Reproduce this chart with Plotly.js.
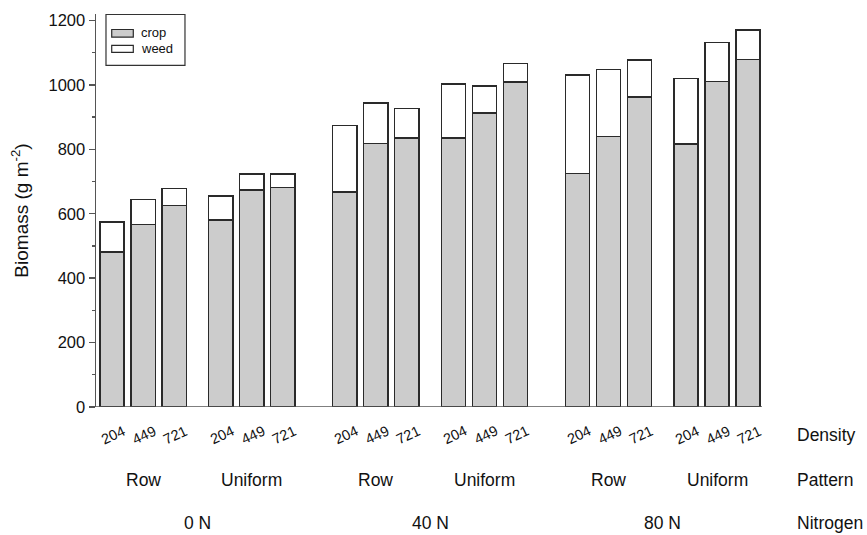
<!DOCTYPE html>
<html>
<head>
<meta charset="utf-8">
<script src="https://cdn.plot.ly/plotly-3.0.1.min.js"></script>
<style>html,body{margin:0;padding:0;background:#fff;}#chart{width:867px;height:535px;}</style>
</head>
<body>
<div id="chart"></div>
<script>
// ---- data ----
var nitrogenLevels = ['0 N', '40 N', '80 N'];
var patterns = ['Row', 'Uniform'];
var densities = ['204', '449', '721'];
// order: nitrogen > pattern > density
var cropBiomass = [481, 567, 626, 580, 673, 682,
                   667, 818, 835, 835, 912, 1009,
                   725, 840, 962, 816, 1010, 1079];
var weedBiomass = [94, 77, 52, 75, 51, 42,
                   207, 126, 91, 167, 84, 57,
                   306, 208, 115, 204, 121, 92];
var rowLabels = ['Density', 'Pattern', 'Nitrogen'];

// ---- layout helpers (group spacing) ----
var xs = [], dLab = [], pCenters = [], nCenters = [];
nitrogenLevels.forEach(function (n, ni) {
  var nStart = ni * 7.5;
  patterns.forEach(function (p, pi) {
    var pStart = nStart + pi * 3.5;
    densities.forEach(function (d, di) {
      xs.push(pStart + di);
      dLab.push(d);
    });
    pCenters.push({x: pStart + 1, t: p});
  });
  nCenters.push({x: nStart + 2.75, t: n});
});

var font = 'Liberation Sans, Arial, sans-serif';
var outline = {color: '#2a2a2a', width: 1.5};

var traces = [
  {type: 'bar', x: xs, y: cropBiomass, name: 'crop', width: 0.78,
   marker: {color: '#cccccc', line: outline}, showlegend: false, hoverinfo: 'y'},
  {type: 'bar', x: xs, y: weedBiomass, name: 'weed', width: 0.78,
   marker: {color: '#ffffff', line: outline}, showlegend: false, hoverinfo: 'y'}
];

var ann = [];
xs.forEach(function (x, i) {
  ann.push({xref: 'x', yref: 'paper', x: x + 0.04, y: -0.071, text: dLab[i], showarrow: false,
            textangle: -25, xanchor: 'center', yanchor: 'middle',
            font: {family: font, size: 14.5, color: '#111'}});
});
pCenters.forEach(function (p) {
  ann.push({xref: 'x', yref: 'paper', x: p.x, y: -0.187, text: p.t, showarrow: false,
            xanchor: 'center', yanchor: 'middle', font: {family: font, size: 17.5, color: '#111'}});
});
nCenters.forEach(function (n) {
  ann.push({xref: 'x', yref: 'paper', x: n.x, y: -0.294, text: n.t, showarrow: false,
            xanchor: 'center', yanchor: 'middle', font: {family: font, size: 17.5, color: '#111'}});
});
var rowY = [-0.072, -0.187, -0.294];
rowLabels.forEach(function (t, i) {
  ann.push({xref: 'paper', yref: 'paper', x: 1.0495, y: rowY[i], text: t, showarrow: false,
            xanchor: 'left', yanchor: 'middle', font: {family: font, size: 17.5, color: '#111'}});
});
// legend text
ann.push({xref: 'paper', yref: 'paper', x: 0.0646, y: 0.953, text: 'crop', showarrow: false,
          xanchor: 'left', yanchor: 'middle', font: {family: font, size: 13, color: '#111'}});
ann.push({xref: 'paper', yref: 'paper', x: 0.0646, y: 0.912, text: 'weed', showarrow: false,
          xanchor: 'left', yanchor: 'middle', font: {family: font, size: 13, color: '#111'}});

var shapes = [
  // x axis line (extends slightly left of y axis)
  {type: 'line', xref: 'paper', yref: 'y', x0: -0.007, x1: 1, y0: 0, y1: 0,
   line: {color: '#555', width: 1.5}},
  // legend box
  {type: 'rect', xref: 'paper', yref: 'paper', x0: 0.015, x1: 0.1336, y0: 0.8692, y1: 0.9987,
   line: {color: '#333', width: 1.2}, fillcolor: 'rgba(0,0,0,0)'},
  {type: 'rect', xref: 'paper', yref: 'paper', x0: 0.0236, x1: 0.056, y0: 0.9411, y1: 0.9606,
   line: {color: '#2a2a2a', width: 1.2}, fillcolor: '#cccccc'},
  {type: 'rect', xref: 'paper', yref: 'paper', x0: 0.0236, x1: 0.056, y0: 0.9022, y1: 0.920,
   line: {color: '#2a2a2a', width: 1.2}, fillcolor: '#ffffff'}
];

var layout = {
  width: 867, height: 535,
  margin: {l: 96, r: 105, t: 13.5, b: 127.7},
  paper_bgcolor: '#fff', plot_bgcolor: '#fff',
  barmode: 'stack',
  showlegend: false,
  font: {family: font, color: '#111'},
  xaxis: {range: [-0.52, 20.95], showticklabels: false, ticks: '', showgrid: false,
          zeroline: false, showline: false, fixedrange: true},
  yaxis: {range: [0, 1220], tickvals: [0, 200, 400, 600, 800, 1000, 1200],
          ticks: 'outside', ticklen: 6, tickwidth: 1.3, tickcolor: '#555',
          minor: {tickvals: [100, 300, 500, 700, 900, 1100], ticks: 'outside', ticklen: 3, tickwidth: 1.3, tickcolor: '#555'},
          showline: true, linecolor: '#555', linewidth: 1.5, showgrid: false, zeroline: false,
          tickfont: {family: font, size: 16.5, color: '#111'},
          title: {text: 'Biomass (g m<sup>-2</sup>)', font: {family: font, size: 19, color: '#111'}, standoff: 15}},
  annotations: ann,
  shapes: shapes,
  bargap: 0
};

Plotly.newPlot('chart', traces, layout, {displayModeBar: false, staticPlot: true});
</script>
</body>
</html>
